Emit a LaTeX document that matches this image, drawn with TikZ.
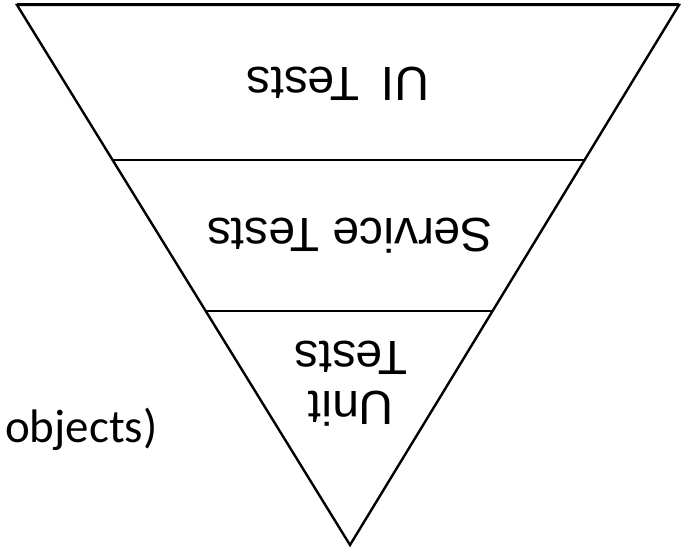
\documentclass[tikz,border=0pt]{standalone}
\usepackage{fontspec}
\setmainfont{Liberation Sans}
\newfontfamily\calib{Carlito}
\begin{document}
\begin{tikzpicture}[x=1pt,y=1pt,
  edge/.style={line width=2.4pt, line join=miter},
  tierlabel/.style={rotate=180, font=\fontsize{48}{52}\selectfont, align=center, inner sep=0pt},
  sidelabel/.style={font=\calib\fontsize{47}{52}\selectfont, anchor=base west, inner sep=0pt}]
\useasboundingbox (0,0) rectangle (684,550);
\coordinate (tl) at (17,545);
\coordinate (tr) at (679,545);
\coordinate (ap) at (350,5);
\coordinate (l1) at (112.6,390);
\coordinate (r1) at (584.6,390);
\coordinate (l2) at (205.7,239);
\coordinate (r2) at (492.6,239);
\draw[edge] (tl) -- (tr) -- (ap) -- cycle;
\draw[line width=3pt] (tl) -- (tr);
\draw[edge] (l1) -- (r1);
\draw[edge] (l2) -- (r2);
\node[tierlabel] (ui) at (338,466) {UI\hspace{22pt}Tests};
\node[tierlabel] (svc) at (350,314) {Service Tests};
\node[tierlabel, font=\fontsize{48}{50}\selectfont] (unit) at (351,166) {Unit\\Tests};
\node[sidelabel] (obj) at (5,108) {objects)};
\end{tikzpicture}
\end{document}
